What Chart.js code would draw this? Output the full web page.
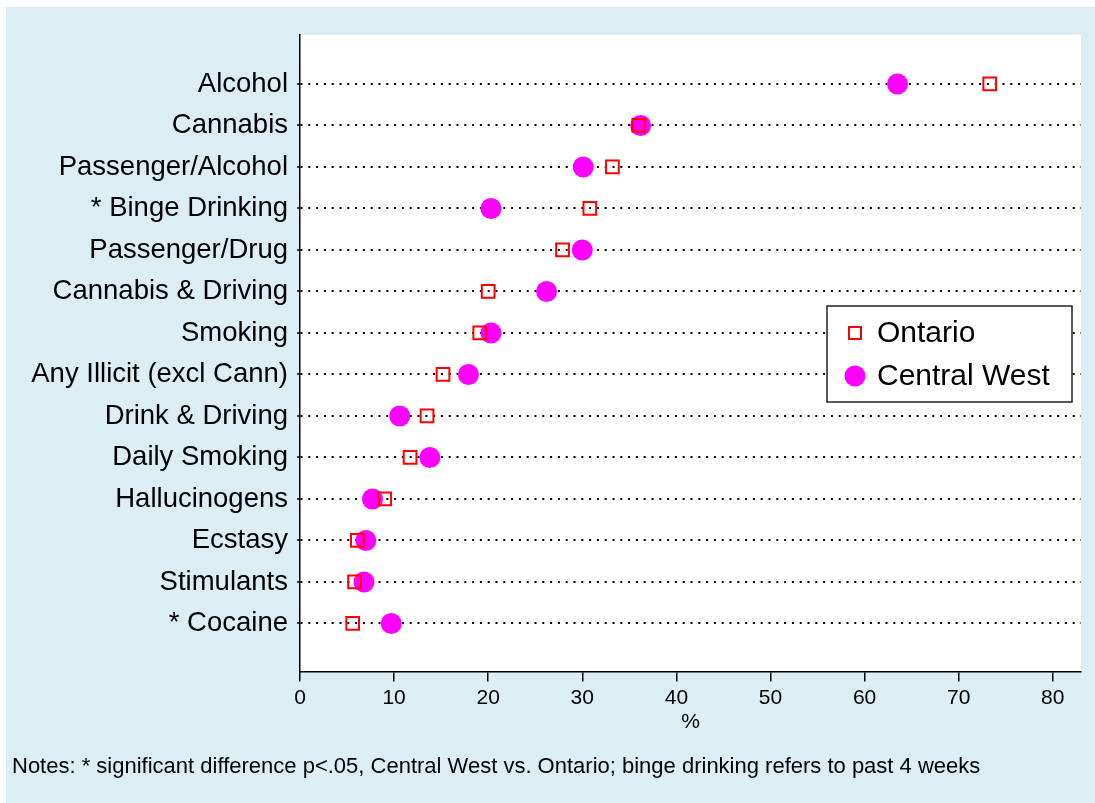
<!DOCTYPE html>
<html>
<head>
<meta charset="utf-8">
<script src="https://cdn.jsdelivr.net/npm/chart.js@4/dist/chart.umd.min.js"></script>
<style>
  html, body { margin: 0; padding: 0; background: #fff; }
  #wrap { position: absolute; left: 6px; top: 7px; width: 1089px; height: 796px; background: #ddedf4; }
</style>
</head>
<body>
<div id="wrap"><canvas id="dotChart" width="1089" height="796"></canvas></div>
<script>
// categories, top to bottom
const categories = [
    'Alcohol', 'Cannabis', 'Passenger/Alcohol', '* Binge Drinking', 'Passenger/Drug',
    'Cannabis & Driving', 'Smoking', 'Any Illicit (excl Cann)', 'Drink & Driving',
    'Daily Smoking', 'Hallucinogens', 'Ecstasy', 'Stimulants', '* Cocaine'
];
const ontario     = [73.3, 36.0, 33.2, 30.8, 27.9, 20.0, 19.1, 15.2, 13.5, 11.7, 9.0, 6.1, 5.8, 5.6];
const centralWest = [63.5, 36.2, 30.1, 20.3, 30.0, 26.2, 20.3, 17.9, 10.6, 13.8, 7.7, 7.0, 6.8, 9.7];
const xTicks = [0, 10, 20, 30, 40, 50, 60, 70, 80];
const seriesNames = ['Ontario', 'Central West'];
const noteText = 'Notes: * significant difference p<.05, Central West vs. Ontario; binge drinking refers to past 4 weeks';

const FONT = "'Liberation Sans', Arial, sans-serif";

const toPoints = vals => vals.map((v, i) => ({ x: v, y: i }));

// white plot region
const plotBg = {
    id: 'plotBg',
    beforeDraw(chart) {
        const { ctx, chartArea: a } = chart;
        ctx.save();
        ctx.fillStyle = '#fff';
        ctx.fillRect(a.left, a.top, a.right - a.left, a.bottom - a.top);
        ctx.restore();
    }
};

// legend box drawn inside the plot, like the Stata one
const insideLegend = {
    id: 'insideLegend',
    afterDatasetsDraw(chart) {
        const ctx = chart.ctx;
        const area = chart.chartArea;
        const right = area.right - 9, left = right - 245;
        const top = 299, bottom = 395;
        ctx.save();
        ctx.fillStyle = '#fff';
        ctx.fillRect(left, top, right - left, bottom - top);
        ctx.lineWidth = 1.5;
        ctx.strokeStyle = '#222';
        ctx.strokeRect(left, top, right - left, bottom - top);

        const rows = [top + 27, top + 70];
        const ds = chart.data.datasets;
        // Ontario square
        ctx.lineWidth = 2;
        ctx.strokeStyle = ds[0].borderColor;
        ctx.strokeRect(left + 22, rows[0] - 6, 12, 12);
        // Central West circle
        ctx.fillStyle = ds[1].backgroundColor;
        ctx.beginPath();
        ctx.arc(left + 28, rows[1], 10.5, 0, Math.PI * 2);
        ctx.fill();

        ctx.fillStyle = '#000';
        ctx.font = '30px ' + FONT;
        ctx.textBaseline = 'middle';
        ctx.textAlign = 'left';
        ctx.fillText(ds[0].label, left + 50, rows[0] + 1);
        ctx.fillText(ds[1].label, left + 50, rows[1] + 1);
        ctx.restore();
    }
};

new Chart(document.getElementById('dotChart'), {
    type: 'scatter',
    data: {
        datasets: [{
            label: seriesNames[0],
            data: toPoints(ontario),
            pointStyle: 'rect',
            pointRadius: 9,
            borderColor: '#ff0000',
            backgroundColor: 'rgba(0,0,0,0)',
            borderWidth: 2
        }, {
            label: seriesNames[1],
            data: toPoints(centralWest),
            pointStyle: 'circle',
            pointRadius: 10.5,
            borderWidth: 0,
            borderColor: '#ff00ff',
            backgroundColor: '#ff00ff'
        }]
    },
    options: {
        responsive: false,
        animation: false,
        events: [],
        layout: { padding: { left: 6, right: 14, top: 28, bottom: 0 } },
        plugins: {
            legend: { display: false },
            tooltip: { enabled: false },
            title: {
                display: true,
                position: 'bottom',
                align: 'start',
                text: noteText,
                color: '#000',
                font: { family: FONT, size: 22, weight: 'normal' },
                padding: { top: 12, bottom: 23 }
            }
        },
        scales: {
            x: {
                type: 'linear',
                min: 0,
                max: 83,
                afterBuildTicks: axis => { axis.ticks = xTicks.map(v => ({ value: v })); },
                afterFit: axis => { axis.height = 70; },
                border: { display: true, color: '#000', width: 1.5 },
                grid: { drawOnChartArea: false, drawTicks: true, tickLength: 10, color: '#000', lineWidth: 1.5 },
                ticks: { color: '#000', padding: 4, font: { family: FONT, size: 21 } },
                title: {
                    display: true, text: '%', color: '#000',
                    font: { family: FONT, size: 21 },
                    padding: { top: 0, bottom: 7 }
                }
            },
            y: {
                type: 'linear',
                reverse: true,
                min: -1.18,
                max: 14.16,
                afterBuildTicks: axis => { axis.ticks = categories.map((c, i) => ({ value: i })); },
                afterFit: axis => { axis.width = 288; },
                border: { display: true, color: '#000', width: 1.5, dash: [2, 5.8] },
                grid: {
                    color: '#000', lineWidth: 2,
                    drawTicks: true, tickLength: 3, tickColor: '#000', tickWidth: 1.5, tickBorderDash: []
                },
                ticks: {
                    color: '#000', padding: 9,
                    font: { family: FONT, size: 27.5 },
                    callback: v => categories[v]
                }
            }
        }
    },
    plugins: [plotBg, insideLegend]
});
</script>
</body>
</html>
